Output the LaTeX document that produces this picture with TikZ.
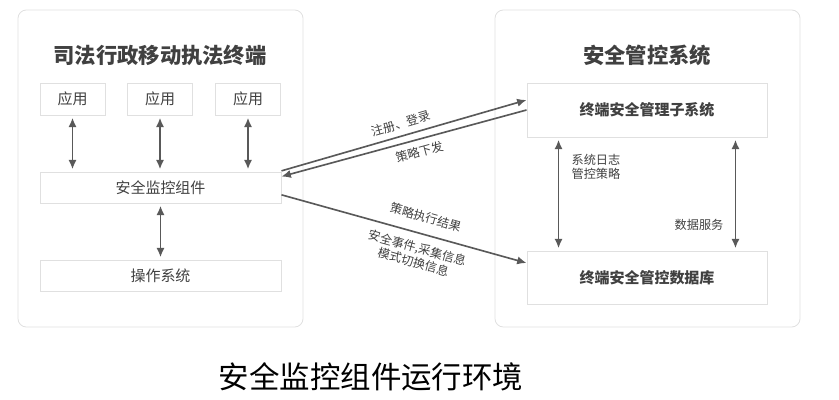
\documentclass[tikz,border=0pt]{standalone}
\usepackage{fontspec}
\setmainfont{Noto Sans CJK SC}
\usetikzlibrary{shapes,arrows.meta,positioning,fit,calc,backgrounds}
\definecolor{txtgray}{HTML}{404040}
\definecolor{arrgray}{HTML}{595959}
\definecolor{boxgray}{HTML}{E0E0E0}

\begin{document}
\begin{tikzpicture}[
    x=0.03cm, y=-0.03cm,
    frame/.style={draw=boxgray, line width=0.7pt, rounded corners=0.25cm},
    block/.style={draw=boxgray, line width=0.8pt, rectangle, inner sep=0pt, text=txtgray, font=\fontsize{12.8}{14}\selectfont},
    bigblock/.style={block, font=\fontsize{12.8}{14}\selectfont\bfseries},
    edge/.style={-{Latex[length=8pt,width=7pt]}, line width=1.4pt, draw=arrgray},
    biedge/.style={{Latex[length=8pt,width=7pt]}-{Latex[length=8pt,width=7pt]}, line width=1.4pt, draw=arrgray, shorten >=2pt, shorten <=2pt},
    label/.style={text=txtgray, font=\fontsize{10.4}{12.5}\selectfont, inner sep=2pt},
    title/.style={text=txtgray, font=\fontsize{18.2}{20}\selectfont\bfseries},
    caption/.style={text=black, font=\fontsize{26}{28}\selectfont},
]
\useasboundingbox (0,0) rectangle (839,400);

% Terminal side
\draw[frame] (18,10) rectangle (303,327);
\node[title] (ttitle) at (160,55) {司法行政移动执法终端};

\node[block, minimum width=1.95cm, minimum height=0.96cm] (app1) at (72.5,99) {应用};
\node[block, minimum width=1.95cm, minimum height=0.96cm] (app2) at (160,99) {应用};
\node[block, minimum width=1.95cm, minimum height=0.96cm] (app3) at (248,99) {应用};
\node[block, minimum width=7.23cm, minimum height=0.93cm] (comp) at (160.5,187.5) {安全监控组件};
\node[block, minimum width=7.23cm, minimum height=0.93cm] (os) at (160.5,275.5) {操作系统};

\draw[biedge] (app1.south) -- (app1.south |- comp.north);
\draw[biedge] (app2.south) -- (app2.south |- comp.north);
\draw[biedge] (app3.south) -- (app3.south |- comp.north);
\draw[biedge] (comp.south) -- (os.north);

% Management side
\draw[frame] (495,10) rectangle (800,327);
\node[title] (stitle) at (647,55) {安全管控系统};

\node[bigblock, minimum width=7.2cm, minimum height=1.62cm] (sub) at (647,110) {终端安全管理子系统};
\node[bigblock, minimum width=7.2cm, minimum height=1.59cm] (db) at (647,277.5) {终端安全管控数据库};

\draw[biedge] ([xshift=0.96cm]sub.south west) -- ([xshift=0.96cm]db.north west);
\draw[biedge] ([xshift=-0.96cm]sub.south east) -- ([xshift=-0.96cm]db.north east);
\node[label, anchor=west, align=left] (loglbl) at (569,167) {系统日志\\管控策略};
\node[label, anchor=east] (datalbl) at (726,225) {数据服务};

% Between the two
\draw[edge] ([yshift=0.02cm]comp.north east) -- node[label, sloped, above=3pt, pos=0.5] (reglbl) {注册、登录} ([yshift=0.3cm]sub.west);
\draw[edge] (sub.west) -- node[label, sloped, below=3pt, pos=0.45] (pollbl) {策略下发} ([yshift=-0.15cm]comp.north east);
\draw[edge] ([yshift=-0.22cm]comp.east) -- node[label, sloped, above=7pt, pos=0.57] (reslbl) {策略执行结果} node[label, sloped, below=5pt, pos=0.57, align=center] (evtlbl) {安全事件,采集信息\\模式切换信息} ([yshift=0.435cm]db.west);

% Caption
\node[caption] (cap) at (371,377) {安全监控组件运行环境};

\end{tikzpicture}
\end{document}
